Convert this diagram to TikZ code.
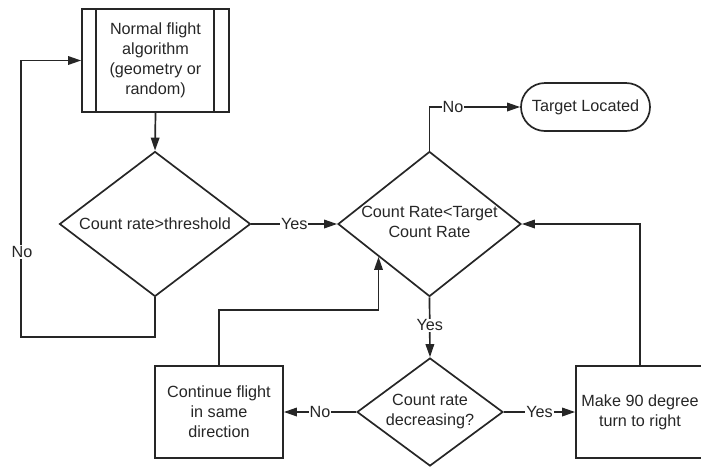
\documentclass[tikz,border=0pt]{standalone}
\usepackage{fontspec}
\setmainfont{Liberation Sans}
\usetikzlibrary{shapes.geometric,arrows.meta,calc}

\tikzset{
  base/.style={draw=black!85, line width=1.7pt, inner sep=0pt},
  box/.style={base, rectangle},
  decision/.style={base, diamond},
  term/.style={base, rectangle, rounded corners=24pt},
  txt/.style={align=center, font=\fontsize{16.2}{20}\selectfont, text=black!85},
  flow/.style={draw=black!85, line width=1.7pt, -{Triangle[length=13pt,width=8.5pt]}},
  wire/.style={draw=black!85, line width=1.7pt},
  lbl/.style={fill=white, inner sep=1pt, font=\fontsize{16.2}{20}\selectfont, text=black!85},
}

\begin{document}
\begin{tikzpicture}[x=1pt, y=-1pt]
  \useasboundingbox (0,0) rectangle (701,467);

  % predefined process box with its two side bars
  \node[box, minimum width=147pt, minimum height=103pt] (nf) at (155.5,60.5) {};
  \draw[wire] ($(nf.north west)+(15,0)$) -- ($(nf.south west)+(15,0)$);
  \draw[wire] ($(nf.north east)+(-16,0)$) -- ($(nf.south east)+(-16,0)$);
  \node[txt] (nftext) at (nf.center) {Normal flight\\algorithm\\(geometry or\\random)};

  % decisions
  \node[decision, minimum width=191pt, minimum height=145pt] (d1) at (155,224) {};
  \node[txt] (d1text) at (d1.center) {Count rate>threshold};

  \node[decision, minimum width=183pt, minimum height=145pt] (d2) at (429.5,224) {};
  \node[txt] (d2text) at (429.5,222) {Count Rate<Target\\Count Rate};

  \node[decision, minimum width=146pt, minimum height=108pt] (d3) at (430,412) {};
  \node[txt] (d3text) at (d3.center) {Count rate\\decreasing?};

  % terminal and process boxes
  \node[term, minimum width=129pt, minimum height=48pt, txt] (tl) at (585.5,107) {Target Located};
  \node[box, minimum width=128pt, minimum height=92pt, txt] (cf) at (219,412) {Continue flight\\in same\\direction};
  \node[box, minimum width=128pt, minimum height=92pt, txt] (mk) at (640,412) {Make 90 degree\\turn to right};

  % point on the lower-left edge of the second decision
  \coordinate (d2edge) at ($(d2.west)!0.448!(d2.south)$);

  % connectors
  \draw[flow] (nf.south) -- (d1.north);
  \draw[flow] (d1.south) -- ++(0,39.5) -| ($(nf.west)+(-60,0)$) -- (nf.west);
  \node[lbl] (noloop) at (22,252) {No};

  \draw[flow] (d1.east) -- node[lbl, pos=0.5] (yes1) {Yes} (d2.west);
  \draw[flow] (d2.north) |- node[lbl, pos=0.63] (no1) {No} (tl.west);
  \draw[flow] (d2.south) -- node[lbl, pos=0.47] (yes2) {Yes} (d3.north);
  \draw[flow] (d3.west) -- node[lbl, pos=0.5] (no2) {No} (cf.east);
  \draw[flow] (d3.east) -- node[lbl, pos=0.5] (yes3) {Yes} (mk.west);
  \draw[flow] (mk.north) |- (d2.east);
  \draw[flow] (cf.north) -- ++(0,-55) -| (d2edge);
\end{tikzpicture}
\end{document}
